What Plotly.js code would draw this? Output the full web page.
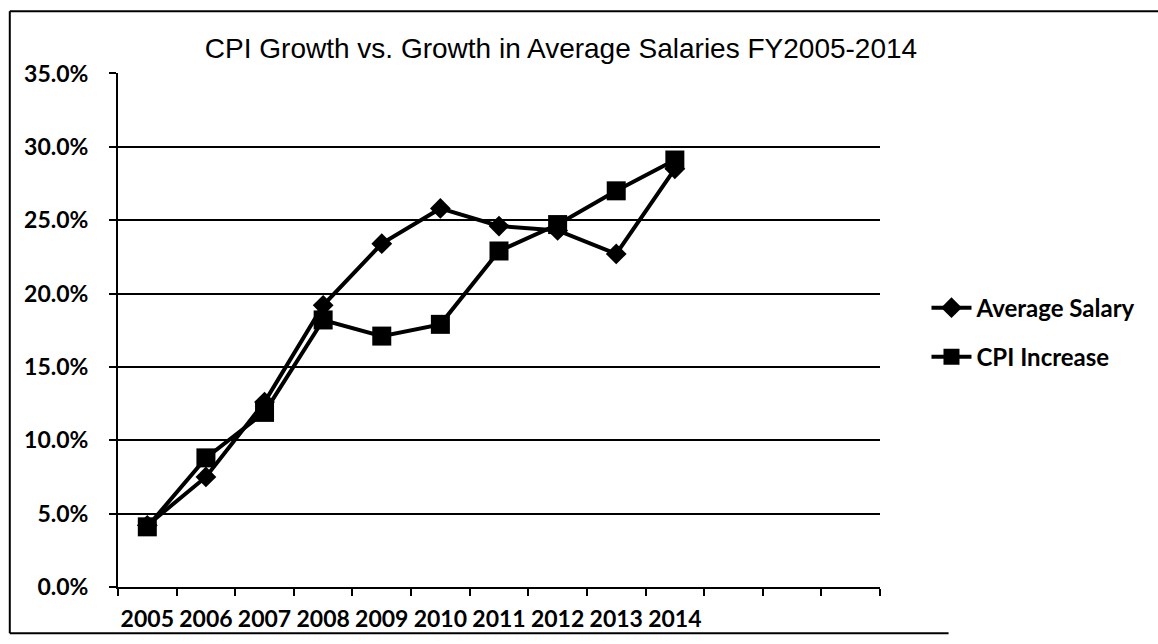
<!DOCTYPE html>
<html>
<head>
<meta charset="utf-8">
<script src="https://cdn.plot.ly/plotly-3.0.1.min.js"></script>
<style>html,body{margin:0;padding:0;background:#fff;}#chart{width:1158px;height:644px;}</style>
</head>
<body>
<div id="chart"></div>
<script>
// Category axis: 2005-2014 plus three empty slots as in the original
const years = ['2005','2006','2007','2008','2009','2010','2011','2012','2013','2014'];
const extraSlots = [' ', '  ', '   '];
const avgSalary = [0.042, 0.075, 0.126, 0.192, 0.234, 0.258, 0.246, 0.243, 0.227, 0.285];
const cpiIncrease = [0.041, 0.088, 0.119, 0.182, 0.171, 0.179, 0.229, 0.247, 0.270, 0.291];
const seriesNames = ['Average Salary', 'CPI Increase'];
const titleText = 'CPI Growth vs. Growth in Average Salaries FY2005-2014';

const traces = [
  {x: years, y: avgSalary, name: seriesNames[0], type: 'scatter', mode: 'lines+markers',
   legendgroup: 'a',
   line: {color: '#000', width: 4}, marker: {symbol: 'diamond', size: 16, color: '#000'}},
  {x: years, y: cpiIncrease, name: seriesNames[1], type: 'scatter', mode: 'lines+markers',
   legendgroup: 'b',
   line: {color: '#000', width: 4}, marker: {symbol: 'square', size: 19, color: '#000'}}
];

const tickFont = {family: 'Lato, "Open Sans", sans-serif', size: 23, color: '#000', weight: 'bold'};

const layout = {
  width: 1158, height: 644,
  paper_bgcolor: '#fff', plot_bgcolor: '#fff',
  margin: {l: 118, r: 278, t: 73, b: 57},
  title: {text: titleText, font: {family: '"Liberation Sans", Arial, sans-serif', size: 28, color: '#000'},
          xref: 'container', x: 561/1158, xanchor: 'center', yref: 'container', y: 1 - 48/644, yanchor: 'middle'},
  showlegend: true,
  legend: {x: 1.061, xanchor: 'left', y: 0.495, yanchor: 'middle',
           font: {family: 'Lato, "Open Sans", sans-serif', size: 24, color: '#000', weight: 'bold'},
           tracegroupgap: 15, itemwidth: 40, bgcolor: 'rgba(0,0,0,0)'},
  xaxis: {type: 'category', categoryorder: 'array', categoryarray: years.concat(extraSlots),
          range: [-0.5, 12.5], tickson: 'boundaries', ticks: 'outside', ticklen: 7, tickwidth: 2, tickcolor: '#000',
          showline: true, linecolor: '#000', linewidth: 2, showgrid: false, zeroline: false,
          tickangle: 0, tickfont: tickFont, ticklabelstandoff: 10, fixedrange: true},
  yaxis: {range: [0, 0.3503], dtick: 0.05, tick0: 0, tickformat: '.1%', ticks: 'outside', ticklen: 7, tickwidth: 2, tickcolor: '#000',
          showline: true, linecolor: '#000', linewidth: 2, showgrid: true, gridcolor: '#000', gridwidth: 2,
          zeroline: false, tickfont: tickFont, ticklabelstandoff: 16, fixedrange: true},
  shapes: [
    {type: 'line', xref: 'paper', yref: 'paper', x0: -0.142, x1: -0.142, y0: -0.09, y1: 1.12, line: {color: '#000', width: 2}},
    {type: 'line', xref: 'paper', yref: 'paper', x0: -0.142, x1: 1.45, y0: 1.12, y1: 1.12, line: {color: '#000', width: 2}},
    {type: 'line', xref: 'paper', yref: 'paper', x0: -0.142, x1: 1.09, y0: -0.09, y1: -0.09, line: {color: '#000', width: 2}}
  ]
};

Plotly.newPlot('chart', traces, layout, {displayModeBar: false, staticPlot: true});
</script>
</body>
</html>
